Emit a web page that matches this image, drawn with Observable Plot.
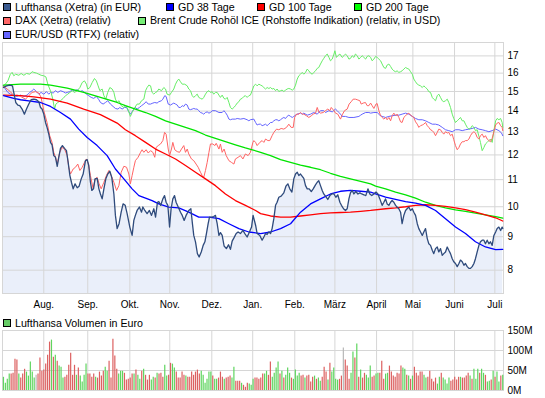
<!DOCTYPE html>
<html><head><meta charset="utf-8">
<script src="https://cdn.jsdelivr.net/npm/d3@7"></script>
<script src="https://cdn.jsdelivr.net/npm/@observablehq/plot@0.6"></script>
<style>
body{margin:0;background:#fff;}
#page{position:relative;width:545px;height:398px;overflow:hidden;font-family:"Liberation Sans",Arial,sans-serif;color:#000;background:#fff;}
.lg{position:absolute;white-space:nowrap;font-size:10.67px;line-height:12px;height:12px;}
.sw{position:absolute;width:6px;height:6px;border:1px solid #000;}
.chart{position:absolute;left:0;}
</style></head>
<body><div id="page"></div>
<script>
// ---------- data (x = trading-day index, y = EUR) ----------
const monthTicks = [21.0, 43.9, 65.8, 86.6, 108.5, 129.8, 151.7, 172.6, 194.3, 213.2, 234.9, 255.9];
const monthLabels = ["Aug.", "Sep.", "Okt.", "Nov.", "Dez.", "Jan.", "Feb.", "März", "April", "Mai", "Juni", "Juli"];
const priceTicks = [8, 9, 10, 11, 12, 13, 14, 15, 16, 17];
const volTicks = [0, 50, 100, 150];

const lufthansa = [[0,15.21],[1.6,15.30],[3.3,15.34],[4.7,15.30],[5.7,14.78],[6.4,14.43],[7.5,14.30],[8.5,14.27],[9.7,14.10],[10.9,13.85],[12.0,14.10],[13.2,14.35],[14.4,14.57],[15.8,14.60],[17.2,14.57],[18.4,14.47],[19.3,14.18],[20.1,14.10],[21.0,13.85],[21.9,13.45],[22.7,13.22],[23.6,12.91],[24.5,12.54],[25.3,12.43],[26.2,11.97],[27.1,11.90],[28.0,11.53],[28.8,11.90],[29.7,12.28],[30.7,12.40],[31.8,12.28],[32.8,12.18],[33.7,11.69],[34.6,11.16],[35.4,10.90],[36.3,10.65],[37.3,10.84],[38.4,10.69],[39.4,10.75],[40.5,11.03],[41.5,11.22],[42.7,11.76],[43.6,11.80],[44.4,11.56],[45.3,10.90],[46.0,10.59],[46.9,10.65],[47.7,11.03],[48.8,11.05],[49.7,10.65],[50.5,10.46],[51.4,10.28],[52.3,10.65],[53.3,11.03],[54.3,11.22],[55.4,11.33],[56.4,11.09],[57.5,10.46],[58.3,9.70],[59.2,9.26],[60.2,9.42],[61.3,9.81],[62.3,10.10],[63.4,10.05],[64.4,9.76],[65.8,9.31],
[67.0,9.04],[67.9,9.53],[68.7,9.70],[69.6,9.87],[70.8,9.99],[71.9,9.81],[72.6,9.99],[73.6,9.87],[74.8,9.76],[76.0,9.87],[77.1,9.70],[78.3,9.93],[79.2,9.64],[80.2,10.16],[80.9,10.18],[81.9,10.05],[83.0,10.28],[83.9,10.40],[84.7,10.16],[85.6,10.05],[86.5,9.31],[87.3,9.93],[88.2,10.28],[89.1,10.40],[89.9,10.16],[91.0,9.99],[92.2,9.81],[93.1,9.70],[94.1,9.53],[95.1,9.70],[96.5,9.87],[97.6,9.93],[98.3,9.48],[99.1,9.04],[100.0,8.84],[101.0,8.48],[101.9,8.38],[103.0,8.53],[104.0,8.73],[104.9,8.84],[105.7,9.10],[106.6,9.42],[107.3,9.64],[108.3,9.64],[109.5,9.66],[110.4,9.70],[111.3,9.42],[112.2,9.04],[113.0,9.13],[113.9,9.04],[114.9,8.71],[116.1,8.63],[117.2,8.75],[118.2,8.61],[119.1,8.86],[120.1,8.97],[121.2,9.10],[122.2,9.15],[123.4,9.10],[124.7,9.20],[125.7,9.10],[126.9,8.99],[128.1,9.15],[129.2,9.31],[130.0,9.70],
[131.3,9.37],[132.1,9.10],[133.5,9.04],[134.7,8.89],[135.6,8.99],[136.5,9.10],[137.3,9.07],[138.2,9.15],[139.1,9.10],[139.9,9.26],[140.8,9.59],[141.7,10.05],[142.5,10.16],[143.4,10.34],[144.6,10.38],[146.0,10.50],[147.1,10.75],[148.1,10.84],[149.1,10.65],[150.2,10.53],[151.2,11.03],[152.1,11.22],[153.0,11.29],[153.8,11.16],[154.7,11.22],[155.6,11.13],[156.4,11.05],[157.3,10.77],[158.2,10.65],[159.2,10.65],[160.3,10.55],[161.3,10.65],[162.5,10.80],[163.4,10.90],[164.2,10.96],[165.1,10.77],[166.0,10.59],[166.8,10.46],[167.7,10.38],[168.9,10.26],[170.0,10.40],[171.0,10.46],[172.1,10.46],[173.1,10.34],[174.1,10.43],[175.2,10.16],[176.0,10.05],[177.1,9.93],[178.1,9.87],[179.0,9.93],[179.9,10.28],[180.7,10.50],[181.6,10.59],[182.5,10.46],[183.5,10.55],[184.6,10.46],[185.6,10.50],[186.6,10.46],[187.7,10.43],[188.7,10.40],[189.8,10.65],[190.8,10.46],[191.8,10.40],[192.9,10.46],[194.0,10.53],[195.0,10.46],[196.0,10.28],
[197.2,10.05],[198.1,10.16],[199.0,10.28],[199.8,10.10],[200.7,10.05],[201.6,10.16],[202.4,10.22],[203.3,10.16],[204.2,10.05],[205.0,9.99],[205.9,9.93],[206.8,9.81],[207.6,9.42],[208.5,9.70],[209.4,9.87],[210.2,9.93],[211.1,9.99],[212.0,9.87],[212.9,9.93],[213.7,9.81],[214.6,9.70],[215.5,9.42],[216.3,9.26],[217.2,9.15],[218.1,9.04],[218.9,9.15],[219.8,9.26],[220.7,8.94],[221.5,8.78],[222.4,8.73],[223.3,8.58],[224.1,8.48],[225.0,8.63],[225.9,8.68],[226.7,8.53],[227.6,8.63],[228.5,8.43],[229.3,8.48],[230.2,8.53],[231.1,8.68],[231.9,8.58],[232.8,8.48],[233.7,8.33],[234.5,8.24],[235.4,8.19],[236.3,8.10],[237.2,8.19],[238.0,8.29],[238.9,8.24],[239.8,8.14],[240.6,8.19],[241.5,8.10],[242.4,8.05],[243.2,8.05],[244.1,8.10],[245.0,8.19],[245.8,8.33],[246.7,8.53],[247.6,8.73],[248.4,8.84],[249.3,8.89],[250.2,8.89],[251.0,8.78],[251.9,8.89],[252.8,8.78],[253.6,8.84],[254.5,8.73],[255.4,9.04],[256.3,9.15],[257.1,9.26],[258.0,9.31],[258.9,9.20],[259.7,9.31],[260,9.26]];

const gd38 = [[0,14.78],[5.4,14.64],[8.9,14.57],[14.1,14.50],[19.3,14.43],[24.5,14.23],[29.7,13.93],[34.9,13.61],[39.2,13.14],[43.6,12.76],[48.8,12.40],[54.0,11.97],[58.3,11.42],[62.7,11.03],[67.0,10.65],[70.5,10.40],[74.0,10.31],[77.4,10.22],[80.9,10.10],[86.1,9.99],[91.3,9.96],[96.5,9.81],[101.7,9.64],[107.0,9.64],[112.2,9.59],[117.4,9.42],[122.6,9.26],[127.8,9.15],[133.9,9.10],[139.1,9.15],[144.3,9.26],[149.5,9.42],[154.7,9.81],[159.9,10.10],[165.1,10.28],[170.3,10.46],[175.5,10.56],[180.7,10.59],[186.0,10.56],[191.2,10.53],[193.8,10.46],[199.0,10.34],[204.2,10.26],[209.4,10.18],[214.6,10.13],[219.8,10.05],[225.0,9.87],[230.2,9.59],[235.4,9.31],[240.6,9.10],[245.8,8.84],[251.0,8.68],[256.3,8.60],[260,8.61]];

const gd100 = [[0,14.81],[8.9,14.78],[15.8,14.72],[24.5,14.60],[33.2,14.40],[41.8,14.10],[50.5,13.83],[59.2,13.42],[63.5,13.11],[68.7,12.84],[74.0,12.54],[79.2,12.25],[84.4,12.04],[89.6,11.83],[94.8,11.56],[100.0,11.29],[105.2,11.03],[110.4,10.77],[115.6,10.46],[120.8,10.22],[126.0,10.05],[131.3,9.87],[133.9,9.76],[139.1,9.68],[144.3,9.64],[149.5,9.64],[154.7,9.68],[159.9,9.72],[165.1,9.76],[170.3,9.79],[175.5,9.80],[180.7,9.81],[186.0,9.84],[191.2,9.87],[199.0,9.93],[204.2,9.96],[209.4,10.00],[214.6,10.05],[219.8,10.07],[225.0,10.05],[230.2,10.01],[235.4,9.96],[240.6,9.90],[245.8,9.81],[251.0,9.72],[256.3,9.62],[260,9.51]];

const gd200 = [[0,15.34],[8.9,15.39],[19.3,15.39],[24.5,15.34],[33.2,15.18],[41.8,14.95],[50.5,14.69],[59.2,14.43],[63.5,14.27],[68.7,14.10],[74.0,13.93],[79.2,13.74],[84.4,13.53],[89.6,13.37],[94.8,13.22],[100.0,13.07],[105.2,12.87],[110.4,12.72],[115.6,12.57],[120.8,12.43],[126.0,12.30],[128.7,12.24],[133.9,12.11],[139.1,11.97],[144.3,11.80],[149.5,11.69],[154.7,11.58],[159.9,11.49],[165.1,11.39],[170.3,11.25],[175.5,11.13],[180.7,11.03],[186.0,10.93],[191.2,10.84],[193.8,10.75],[199.0,10.65],[204.2,10.53],[209.4,10.43],[214.6,10.31],[219.8,10.16],[225.0,10.05],[230.2,9.96],[235.4,9.89],[240.6,9.84],[245.8,9.78],[251.0,9.72],[256.3,9.66],[260,9.61]];

const dax = [[0,15.28],[1.9,15.13],[3.6,14.99],[5.4,14.78],[7.1,14.81],[8.9,14.74],[11.5,14.60],[13.2,14.78],[14.9,14.95],[16.7,14.99],[18.4,14.92],[19.6,14.69],[21.0,14.02],[22.7,13.45],[24.1,12.84],[25.3,12.54],[26.2,12.11],[27.1,11.90],[28.0,11.62],[29.3,12.11],[30.6,12.32],[31.8,12.25],[33.2,11.97],[34.0,11.49],[34.9,11.22],[36.3,11.42],[37.5,11.49],[38.7,11.62],[39.8,11.36],[41.0,11.49],[42.2,11.69],[43.2,11.83],[44.3,11.62],[45.3,11.16],[46.7,10.65],[47.7,11.03],[48.8,11.09],[49.8,10.84],[50.9,10.65],[52.3,10.90],[53.6,11.16],[54.9,11.36],[56.1,11.16],[57.5,10.90],[58.9,10.59],[60.1,10.77],[61.3,11.29],[62.7,11.53],[64.1,11.49],[65.3,11.22],[66.1,10.84],[67.0,11.16],[67.9,11.49],[68.7,11.76],[70.1,11.90],[71.4,12.11],[72.2,12.22],[73.1,12.11],[74.3,12.22],[75.4,12.08],[76.6,12.18],[77.8,12.11],[78.8,11.90],[79.5,12.32],[80.6,12.40],[81.8,12.47],[83.0,12.62],[83.9,12.99],[84.7,12.91],[85.8,12.25],[86.5,11.97],[87.5,12.25],[88.2,12.54],[89.2,12.22],[90.5,12.14],[91.7,12.11],[92.7,12.25],[93.9,12.40],[94.8,12.11],[95.7,12.25],[96.5,12.04],[97.9,11.83],[99.1,11.76],[100.3,11.62],[101.4,11.49],[102.6,11.29],[103.5,11.16],[104.3,11.09],[105.2,11.36],[106.1,11.69],[107.0,12.11],[107.8,12.47],[109.0,12.47],[110.1,12.40],[110.8,12.50],[112.2,12.25],[113.0,12.47],[113.9,12.11],[114.9,12.25],[116.0,11.97],[117.4,11.76],[118.7,11.69],[120.0,11.62],[120.8,11.83],[122.2,11.90],[123.4,11.97],[124.7,11.83],[126.0,12.04],[127.4,11.97],[128.6,12.11],[129.9,12.54],[130.4,12.62],[131.3,12.54],[132.1,12.40],[133.5,12.54],[134.7,12.62],[135.6,12.54],[136.5,12.69],[137.7,12.62],[138.7,12.62],[139.9,12.84],[140.8,12.99],[142.2,13.14],[143.4,13.11],[144.6,13.17],[146.0,13.14],[147.4,13.22],[148.6,13.37],[149.8,13.22],[150.9,13.22],[151.6,13.69],[152.6,13.85],[153.8,13.85],[154.7,13.93],[155.6,13.85],[156.4,13.85],[157.8,13.77],[159.0,13.69],[160.3,13.77],[161.3,13.85],[162.5,13.90],[163.4,14.18],[164.2,13.96],[165.1,13.90],[166.5,13.93],[167.7,14.02],[168.9,14.10],[170.0,14.02],[170.7,14.18],[172.1,14.02],[172.9,13.90],[174.1,13.85],[175.5,13.61],[176.6,13.85],[177.6,14.02],[179.0,14.10],[180.0,14.35],[181.1,14.47],[182.1,14.60],[183.3,14.60],[184.2,14.57],[185.6,14.52],[186.3,14.35],[187.3,14.40],[188.5,14.43],[189.4,14.27],[190.3,14.27],[191.2,14.40],[192.0,14.27],[192.9,14.13],[194.0,14.35],[194.6,14.38],[195.5,14.02],[196.4,13.77],[197.2,13.69],[198.1,13.61],[199.0,13.69],[199.8,13.58],[200.7,13.69],[201.6,13.53],[202.4,13.77],[203.3,13.90],[204.2,13.77],[205.0,13.85],[205.9,13.69],[206.8,13.48],[207.6,13.45],[208.5,13.69],[209.4,13.77],[210.2,13.85],[211.1,13.90],[212.0,13.80],[212.9,13.74],[213.7,13.69],[214.6,13.48],[215.5,13.37],[216.3,13.22],[217.2,13.30],[218.1,13.33],[218.9,13.37],[219.8,13.45],[220.7,13.30],[221.5,13.22],[222.4,13.11],[223.3,13.07],[224.1,12.99],[225.0,12.84],[225.9,12.99],[226.7,13.14],[227.6,13.11],[228.5,12.99],[229.3,12.91],[230.2,13.02],[231.1,12.96],[231.9,12.99],[232.8,12.84],[233.7,12.91],[234.5,12.66],[235.4,12.40],[236.3,12.22],[237.2,12.32],[238.0,12.47],[238.9,12.57],[239.8,12.57],[240.6,12.62],[241.5,12.62],[242.4,12.69],[243.2,12.84],[244.1,12.96],[245.0,13.02],[245.8,12.96],[246.7,12.76],[247.6,12.69],[248.4,12.84],[249.3,12.91],[250.2,12.76],[251.0,12.84],[251.9,12.69],[252.8,12.62],[253.6,12.57],[254.5,12.72],[255.4,13.02],[256.3,13.33],[257.1,13.42],[258.0,13.45],[258.9,13.30],[259.7,13.22],[260,13.07]];

const brent = [[0,15.30],[1.0,15.39],[2.3,15.57],[3.6,15.94],[4.5,16.04],[5.4,15.85],[6.3,15.94],[8.0,15.88],[9.2,15.98],[10.6,15.88],[12.0,15.98],[13.7,15.94],[14.9,16.08],[15.8,16.04],[17.2,16.00],[18.4,15.94],[19.6,15.88],[21.0,15.85],[22.1,15.79],[23.1,15.39],[24.1,15.13],[24.8,14.95],[25.7,14.60],[26.6,14.10],[27.3,14.35],[28.3,14.43],[29.7,14.52],[31.1,14.64],[32.3,14.78],[33.5,14.86],[34.6,14.95],[35.8,15.04],[37.0,14.95],[38.4,15.04],[39.8,15.21],[41.0,15.48],[42.2,15.57],[43.2,15.39],[43.9,15.13],[45.0,15.21],[46.2,15.48],[47.4,15.70],[48.4,15.57],[49.3,15.30],[50.2,15.04],[51.4,15.13],[52.3,14.78],[53.3,14.60],[54.3,14.95],[55.4,15.21],[56.6,15.13],[57.5,14.95],[58.3,14.60],[59.2,14.43],[60.2,14.52],[61.3,14.27],[62.7,14.18],[63.7,14.27],[64.8,14.10],[66.1,13.74],[67.0,13.93],[68.4,14.18],[69.6,14.35],[70.8,14.35],[71.9,14.52],[73.1,14.60],[74.0,15.04],[74.8,15.21],[75.7,15.34],[76.6,15.30],[77.4,14.95],[78.3,14.86],[79.2,14.95],[80.0,14.99],[80.9,15.13],[82.3,15.04],[83.5,15.21],[84.4,15.13],[85.2,14.86],[86.5,14.81],[87.5,14.95],[88.7,15.13],[89.6,15.39],[90.5,15.57],[91.3,15.67],[92.2,15.52],[93.1,15.39],[94.4,15.39],[95.7,15.30],[96.5,15.13],[97.4,15.04],[98.3,14.78],[99.1,14.69],[100.0,14.78],[100.9,14.86],[101.7,14.69],[102.6,14.64],[103.5,14.60],[104.3,14.69],[105.2,14.86],[106.1,14.99],[107.0,15.04],[107.8,14.95],[108.7,14.99],[109.5,14.86],[110.4,14.95],[111.3,14.95],[112.2,14.81],[113.0,14.69],[113.9,14.81],[114.8,14.64],[115.6,14.60],[116.5,14.69],[117.4,14.43],[118.2,14.18],[119.1,14.10],[120.0,14.18],[120.8,14.27],[121.7,14.40],[122.6,14.47],[123.4,14.60],[124.3,14.64],[125.2,14.74],[126.0,14.78],[126.9,14.69],[127.8,14.78],[128.6,14.81],[129.5,15.04],[130.4,15.30],[131.3,15.39],[132.1,15.30],[133.0,15.39],[133.9,15.34],[134.7,15.30],[135.6,15.21],[136.5,15.13],[137.3,15.21],[138.2,15.16],[139.1,15.21],[139.9,15.13],[140.8,15.16],[141.7,15.04],[142.5,15.13],[143.4,15.00],[144.3,15.04],[145.1,15.07],[146.0,15.00],[146.9,15.07],[147.7,15.13],[148.6,15.16],[149.5,15.13],[150.4,15.07],[151.2,15.13],[152.1,15.34],[153.0,15.67],[153.8,15.85],[154.7,15.94],[155.6,16.04],[156.4,15.94],[157.3,16.04],[158.2,16.23],[159.0,16.13],[159.9,16.00],[160.8,15.94],[161.6,16.04],[162.5,16.13],[163.4,16.27],[164.2,16.32],[165.1,16.52],[166.0,16.71],[166.8,16.85],[167.7,17.01],[168.6,17.11],[169.5,16.91],[170.3,16.71],[171.2,16.81],[172.1,17.11],[172.6,17.31],[173.4,16.91],[174.1,17.01],[175.2,17.11],[176.4,16.91],[177.3,17.01],[178.1,17.11],[179.0,17.01],[179.9,16.81],[180.7,16.85],[181.6,17.01],[182.5,16.91],[183.3,17.11],[184.2,17.01],[185.1,16.81],[186.0,16.91],[186.8,17.01],[187.7,16.91],[188.6,16.81],[189.4,16.97],[190.3,17.01],[191.2,16.91],[192.0,16.71],[192.9,16.81],[193.8,16.97],[194.6,16.91],[195.5,16.81],[196.4,16.71],[197.2,16.52],[198.1,16.32],[199.0,16.27],[199.8,16.46],[200.7,16.52],[201.6,16.38],[202.4,16.23],[203.3,16.13],[204.2,16.08],[205.0,16.13],[205.9,16.04],[206.8,16.08],[207.6,16.13],[208.5,16.23],[209.4,16.32],[210.2,16.27],[211.1,16.23],[212.0,16.08],[212.9,15.94],[213.7,15.67],[214.6,15.52],[215.5,15.39],[216.3,15.34],[217.2,15.30],[218.1,15.21],[218.9,15.30],[219.8,15.21],[220.7,15.13],[221.5,14.99],[222.4,14.95],[223.3,14.69],[224.1,14.60],[225.0,14.52],[225.9,14.78],[226.7,14.86],[227.6,14.69],[228.5,14.52],[229.3,14.47],[230.2,14.52],[231.1,14.60],[231.9,14.43],[232.8,14.18],[233.7,13.85],[234.5,13.64],[235.4,13.45],[236.3,13.53],[237.2,13.61],[238.0,13.69],[238.9,13.53],[239.8,13.53],[240.6,13.37],[241.5,13.22],[242.4,13.14],[243.2,13.17],[244.1,13.30],[245.0,13.22],[245.8,13.07],[246.7,13.11],[247.6,12.81],[248.4,12.54],[249.3,12.18],[250.2,12.32],[251.0,12.47],[251.9,12.54],[252.8,12.62],[253.6,12.69],[254.5,12.54],[255.4,13.07],[256.3,13.53],[257.1,13.64],[258.0,13.58],[258.9,13.64],[259.7,13.45],[260,13.22]];

const eurusd = [[0,15.30],[1.0,15.13],[2.3,14.95],[3.6,14.86],[5.4,14.78],[7.1,14.74],[8.9,14.81],[10.6,14.74],[12.3,14.81],[13.7,14.95],[14.9,15.04],[15.8,15.13],[17.2,14.99],[18.4,14.86],[19.6,14.95],[21.0,14.86],[22.4,14.99],[23.6,14.86],[24.5,14.95],[25.9,14.92],[27.1,15.04],[28.3,14.95],[29.7,15.04],[31.1,14.99],[32.3,14.92],[33.2,14.95],[34.6,14.99],[35.8,15.09],[37.0,15.04],[38.4,15.09],[39.8,14.99],[41.0,15.04],[42.2,14.95],[43.2,14.86],[44.4,14.78],[45.7,14.69],[47.0,14.64],[48.4,14.74],[49.7,14.57],[50.5,14.43],[51.9,14.35],[53.1,14.43],[54.3,14.52],[55.7,14.35],[57.1,14.23],[58.3,14.13],[59.6,14.10],[60.6,14.18],[61.8,14.10],[63.0,14.18],[64.1,14.18],[64.9,14.02],[66.1,13.85],[66.7,13.93],[67.9,14.10],[68.7,14.18],[69.6,14.10],[70.8,14.18],[71.9,14.27],[73.1,14.35],[74.3,14.47],[75.4,14.35],[76.6,14.35],[77.8,14.40],[78.8,14.43],[80.0,14.40],[80.9,14.47],[82.3,14.52],[83.0,14.60],[84.0,14.78],[84.7,14.74],[85.8,14.35],[87.0,14.30],[87.8,14.35],[88.7,14.40],[89.6,14.35],[90.5,14.30],[91.3,14.18],[92.2,14.18],[93.1,14.27],[93.9,14.23],[94.8,14.35],[95.7,14.30],[96.5,14.10],[97.4,14.07],[98.3,14.10],[99.1,14.13],[100.0,14.10],[100.9,14.10],[101.7,14.02],[102.6,13.93],[103.5,13.90],[104.3,13.85],[105.2,13.93],[106.1,13.96],[107.0,13.90],[107.8,13.93],[108.7,14.02],[110.4,14.02],[112.2,13.93],[113.9,13.93],[114.8,14.02],[115.6,13.93],[116.5,13.80],[117.4,13.61],[118.2,13.58],[119.1,13.61],[120.8,13.61],[121.7,13.64],[123.4,13.61],[125.2,13.64],[126.9,13.58],[127.8,13.53],[128.6,13.58],[130.4,13.61],[131.3,13.45],[132.1,13.33],[133.0,13.37],[133.9,13.37],[134.7,13.30],[135.6,13.33],[136.5,13.37],[137.3,13.30],[138.2,13.37],[139.1,13.45],[139.9,13.45],[140.8,13.53],[141.7,13.58],[142.5,13.58],[143.4,13.53],[144.3,13.58],[145.1,13.64],[146.0,13.69],[146.9,13.64],[147.7,13.74],[148.6,13.80],[149.5,13.74],[150.4,13.69],[151.2,13.74],[152.1,13.80],[153.0,13.85],[154.7,13.90],[155.6,13.85],[156.4,13.90],[158.2,13.80],[159.9,13.85],[161.6,13.93],[163.4,13.85],[165.1,14.02],[166.8,14.02],[167.7,13.93],[169.5,14.02],[171.2,13.96],[172.9,14.10],[173.8,14.02],[174.7,13.93],[175.5,13.85],[176.4,13.74],[178.1,13.74],[179.9,13.69],[182.5,13.69],[185.1,13.74],[186.0,13.80],[186.8,13.85],[188.6,13.93],[190.3,13.93],[191.2,13.90],[192.9,13.93],[194.6,13.93],[196.0,13.80],[197.2,13.74],[199.0,13.69],[200.7,13.74],[202.4,13.77],[204.2,13.80],[205.9,13.80],[207.6,13.85],[209.4,13.90],[211.1,13.85],[212.9,13.74],[214.6,13.64],[216.3,13.58],[218.1,13.58],[219.8,13.53],[221.5,13.45],[223.3,13.37],[225.0,13.37],[226.7,13.33],[228.5,13.22],[230.2,13.11],[231.9,13.07],[233.7,13.02],[235.4,13.11],[237.2,13.11],[238.9,13.07],[240.6,13.11],[242.4,13.14],[244.1,13.17],[245.8,13.22],[247.6,13.14],[249.3,13.11],[251.0,13.07],[252.8,13.02],[254.5,13.07],[256.3,13.14],[258.0,13.07],[259.4,12.96],[260,12.84]];

// daily volume in million EUR (one bar per trading day)
const volume = [33,18,28,41,41,43,78,76,41,31, 41,53,46,36,71,46,31,38,41,81, 48,51,66,88,121,126,83,88,73,61, 58,31,33,38,63,93,38,63,38,56,
 36,21,38,66,41,41,33,41,33,31, 46,36,48,58,48,73,31,128,86,53, 41,48,48,43,26,28,31,41,41,51, 38,28,48,53,38,26,38,26,33,31,
 43,41,43,33,63,36,38,68,66,56, 46,31,31,46,38,36,33,33,46,38, 46,51,41,48,38,18,28,46,46,36, 28,28,31,46,33,28,31,33,36,31,
 58,23,23,23,18,13,8,18,16,13, 28,31,31,28,31,41,41,48,38,71, 33,43,56,71,41,48,31,38,56,43, 31,28,51,36,43,36,38,31,36,38,
 21,33,36,28,31,23,33,58,46,26, 68,46,56,28,26,28,36,106,76,61, 28,43,96,81,116,33,51,31,43,38, 31,61,33,36,41,43,43,73,28,41,
 43,61,46,36,33,43,41,61,56,53, 38,36,28,36,58,43,36,46,46,38, 31,33,48,28,21,31,16,33,43,31, 26,16,31,23,26,33,26,33,33,31,
 31,36,43,36,28,53,28,53,43,53, 43,38,21,23,26,48,33,46,21,36, 38];
// g = up day, r = down day, n = unchanged
const volumeDir = ("ggggrrrrgr"+"rrgggggnrr"+"rrrrrgrgrg"+"ggrrrrrrgr"+"ggggrrrrgr"+"rrrggrrrrr"+"gggrrrrrgr"+"ggrgrrrggr"+"grrrggrrgg"+
 "rrrrrgrrrr"+"rrrggggggr"+"ggrrrgrrrg"+"grrrgrrrgg"+"grrrrrggrr"+"ggggrgrggg"+"rggggrrgrr"+"rrgrggrrrg"+"rggggrrnrr"+"rggrgrgrrg"+
 "ggrrggrrrg"+"grrrrrrrgg"+"rgrgrrrrrg"+"grrrrrggrg"+"gggrrrrrgr"+"rrrgrgggrg"+"grggrgrggr"+"g").split("");

// ---------- styling ----------
const C = {lh:"#2f4b7c", fill:"#eaeffa", gd38:"#0000ff", gd100:"#ff0000", gd200:"#00e400",
  dax:"#ff6464", brent:"#66ee66", eur:"#6464ff", grid:"#d6d6d6", up:"#5fd55f", down:"#dc6060", flat:"#b8b8b8"};
const font = '"Liberation Sans", Arial, sans-serif';
const xDomain = [-0.5, 260.4];
const rows = a => a.map(([x, y]) => ({x, y}));

const page = document.getElementById("page");

// legend
const legend = [
  {t:"Lufthansa (Xetra) (in EUR)", c:"#3a5a90", x:3, y:0},
  {t:"GD 38 Tage", c:C.gd38, x:166, y:0},
  {t:"GD 100 Tage", c:C.gd100, x:257, y:0},
  {t:"GD 200 Tage", c:"#00ff00", x:354, y:0},
  {t:"DAX (Xetra) (relativ)", c:"#ff6666", x:3, y:1},
  {t:"Brent Crude Rohöl ICE (Rohstoffe Indikation) (relativ, in USD)", c:"#77ee77", x:138, y:1},
  {t:"EUR/USD (RTFX) (relativ)", c:"#6666ff", x:3, y:2}
];
const rowTop = [0.7, 14.3, 28.2];
for (const l of legend) {
  const sw = document.createElement("div");
  sw.className = "sw"; sw.style.left = l.x + "px"; sw.style.top = (rowTop[l.y] + 2.3) + "px"; sw.style.background = l.c;
  page.appendChild(sw);
  const tx = document.createElement("div");
  tx.className = "lg"; tx.style.left = (l.x + 12) + "px"; tx.style.top = rowTop[l.y] + "px"; tx.textContent = l.t;
  page.appendChild(tx);
}

const main = Plot.plot({
  width: 545, height: 312,
  marginTop: 42, marginBottom: 19, marginLeft: 2, marginRight: 42,
  x: {domain: xDomain, axis: null},
  y: {type: "log", domain: [7.37, 17.82], axis: null},
  style: {fontFamily: font, fontSize: "10px", color: "#000", background: "transparent"},
  marks: [
    Plot.areaY(rows(lufthansa), {x: "x", y1: 7.37, y2: "y", fill: C.fill}),
    Plot.gridX(monthTicks, {stroke: C.grid, strokeOpacity: 1}),
    Plot.gridY(priceTicks, {stroke: C.grid, strokeOpacity: 1}),
    Plot.frame({stroke: C.grid}),
    Plot.line(rows(eurusd), {x: "x", y: "y", stroke: C.eur, strokeWidth: 1}),
    Plot.line(rows(brent), {x: "x", y: "y", stroke: C.brent, strokeWidth: 1}),
    Plot.line(rows(dax), {x: "x", y: "y", stroke: C.dax, strokeWidth: 1}),
    Plot.line(rows(gd200), {x: "x", y: "y", stroke: C.gd200, strokeWidth: 1.3}),
    Plot.line(rows(gd100), {x: "x", y: "y", stroke: C.gd100, strokeWidth: 1.3}),
    Plot.line(rows(gd38), {x: "x", y: "y", stroke: C.gd38, strokeWidth: 1.3}),
    Plot.line(rows(lufthansa), {x: "x", y: "y", stroke: C.lh, strokeWidth: 1.3}),
    Plot.axisX(monthTicks, {label: null, tickSize: 0, tickPadding: 7, tickFormat: d => monthLabels[monthTicks.indexOf(d)]}),
    Plot.text(priceTicks, {x: xDomain[1], y: d => d, text: d => String(d), textAnchor: "start", dx: 4, fill: "#000"})
  ]
});
main.classList.add("chart"); main.style.top = "0px";
page.appendChild(main);

// volume legend
{
  const sw = document.createElement("div");
  sw.className = "sw"; sw.style.left = "3px"; sw.style.top = "319px"; sw.style.background = "#66cc66";
  page.appendChild(sw);
  const tx = document.createElement("div");
  tx.className = "lg"; tx.style.left = "15px"; tx.style.top = "316.9px"; tx.textContent = "Lufthansa Volumen in Euro";
  page.appendChild(tx);
}

const vrows = volume.map((v, i) => ({x: i, v, d: volumeDir[i]}));
const vol = Plot.plot({
  width: 545, height: 78,
  marginTop: 10, marginBottom: 8, marginLeft: 2, marginRight: 42,
  x: {domain: xDomain, axis: null},
  y: {domain: [0, 150], axis: null},
  style: {fontFamily: font, fontSize: "10px", color: "#000", background: "transparent"},
  marks: [
    Plot.gridX(monthTicks, {stroke: C.grid, strokeOpacity: 1}),
    Plot.gridY([50, 100], {stroke: C.grid, strokeOpacity: 1}),
    Plot.frame({stroke: C.grid}),
    Plot.ruleX(vrows.filter(r => r.d === "g"), {x: "x", y1: 0, y2: "v", stroke: C.up, strokeWidth: 1.2}),
    Plot.ruleX(vrows.filter(r => r.d === "r"), {x: "x", y1: 0, y2: "v", stroke: C.down, strokeWidth: 1.2}),
    Plot.ruleX(vrows.filter(r => r.d === "n"), {x: "x", y1: 0, y2: "v", stroke: C.flat, strokeWidth: 1.2}),
    Plot.axisY(volTicks, {label: null, anchor: "right", tickSize: 0, tickPadding: 4, tickFormat: d => d + "M"})
  ]
});
vol.classList.add("chart"); vol.style.top = "320px";
page.appendChild(vol);
</script>
</body></html>
